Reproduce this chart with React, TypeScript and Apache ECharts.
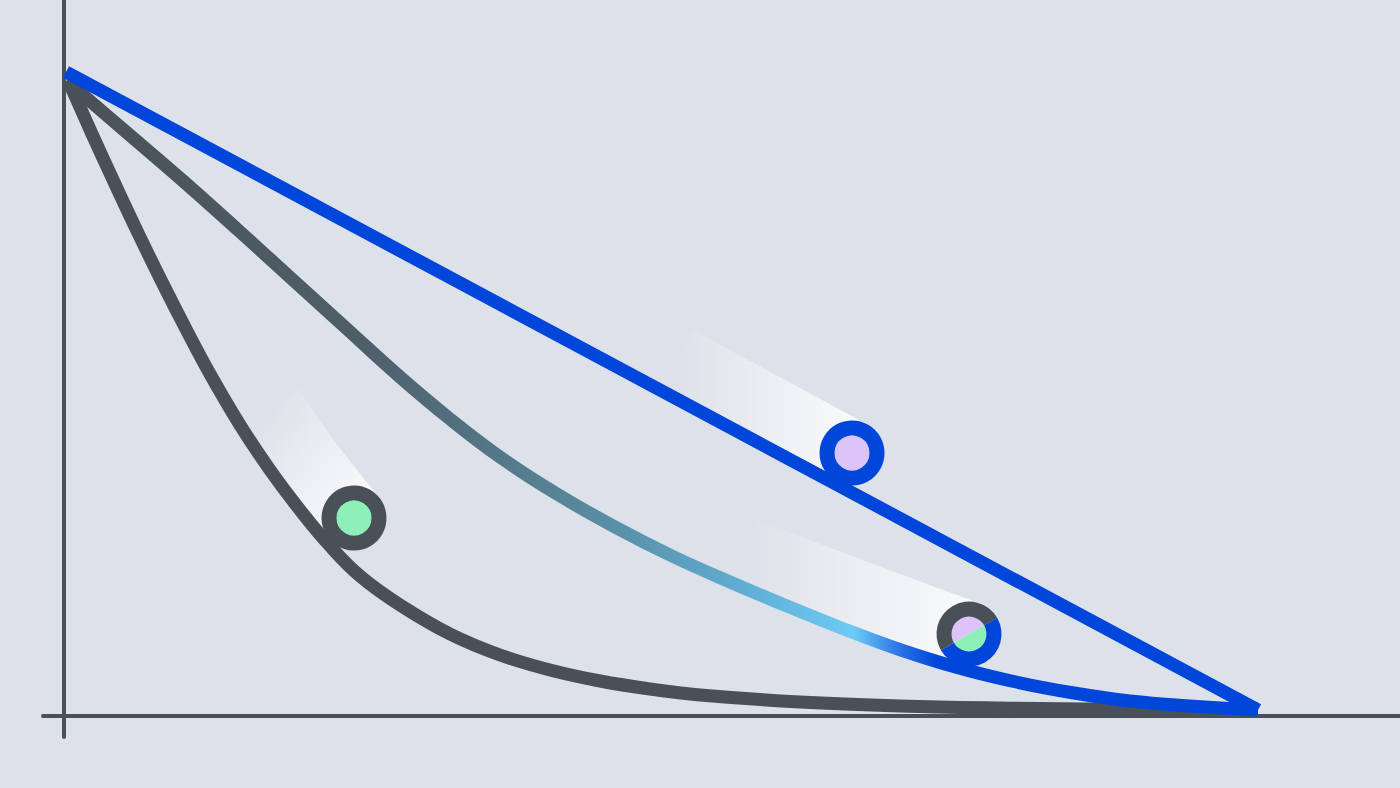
import React, { useEffect, useRef } from 'react';
import * as echarts from 'echarts';

const BG = '#dde1e9';
const GRAY = '#4a5058';
const BLUE = '#0046da';
const LILAC = '#dcc4f9';
const MINT = '#8ef0b8';

// axis units: origin where the two axes cross
const straightX = [2, 1194];
const straightY = [644, 6];

const steepX = [4, 28, 51, 75, 99, 123, 146, 176, 206, 236, 266, 296, 336, 386, 436, 486, 536, 586, 636, 736, 836, 936, 1036, 1194];
const steepY = [636, 582, 532, 481, 432, 385, 342, 291, 246, 206, 170, 140, 111, 82, 61, 46, 35, 27, 21, 14, 10, 8, 7, 7];

const bowX = [4, 61, 118, 174, 229, 283, 336, 386, 436, 493, 551, 608, 666, 723, 780, 837, 895, 952, 1010, 1066, 1126, 1194];
const bowY = [634, 585, 536, 486, 436, 387, 339, 297, 259, 222, 189, 160, 134, 110, 87, 66, 48, 34, 23, 15, 10, 6];

// motion trails behind the balls
const trailAX = [614, 788];
const trailAY = [357, 263];
const trailBX = [207, 238, 290];
const trailBY = [310, 264, 198];
const trailCX = [681, 786, 905];
const trailCY = [166, 126, 82];

const ballX = [788, 290, 905];
const ballY = [263, 198, 82];
// 0 = blue ring / lilac, 1 = gray ring / mint, 2 = half and half
const ballKind = [0, 1, 2];

const pairs = (xs: number[], ys: number[]) => xs.map((x, i) => [x, ys[i]]);

const trailFade = (x2: number, y2: number) =>
  new echarts.graphic.LinearGradient(0, 0, x2, y2, [
    { offset: 0, color: 'rgba(255,255,255,0)' },
    { offset: 0.4, color: 'rgba(255,255,255,0.35)' },
    { offset: 1, color: 'rgba(255,255,255,0.82)' }
  ]);

const trailSeries = (data: number[][], grad: any) => ({
  type: 'line',
  data,
  z: 1,
  smooth: 0.3,
  symbol: 'none',
  silent: true,
  lineStyle: { width: 65, cap: 'butt', color: grad }
});

const curve = (data: number[][], color: any, z: number) => ({
  type: 'line',
  data,
  z,
  smooth: 0.4,
  symbol: 'none',
  silent: true,
  lineStyle: { width: 13, cap: 'butt', join: 'round', color }
});

export default function App() {
  const chartRef = useRef<HTMLDivElement>(null);

  useEffect(() => {
    if (!chartRef.current) return;
    const chart = echarts.init(chartRef.current, null, { renderer: 'svg' });

    const axisCommon = {
      type: 'value',
      axisLine: { show: true, onZero: true, lineStyle: { color: GRAY, width: 4 } },
      axisTick: { show: false },
      axisLabel: { show: false },
      splitLine: { show: false }
    };

    const bowGradient = new echarts.graphic.LinearGradient(0, 0, 1, 0, [
      { offset: 0, color: GRAY },
      { offset: 0.25, color: '#4e5f6a' },
      { offset: 0.42, color: '#588598' },
      { offset: 0.55, color: '#5fa8cc' },
      { offset: 0.66, color: '#6ccbf6' },
      { offset: 0.7, color: '#2a70e6' },
      { offset: 0.73, color: BLUE },
      { offset: 1, color: BLUE }
    ]);

    const option = {
      animation: false,
      backgroundColor: BG,
      grid: { left: 43, right: 0, top: 0, bottom: 51 },
      xAxis: { ...axisCommon, min: -21, max: 1336 },
      yAxis: { ...axisCommon, min: -21, max: 716 },
      series: [
        trailSeries(pairs(trailAX, trailAY), trailFade(1, 0)),
        trailSeries(pairs(trailBX, trailBY), trailFade(1, 1)),
        trailSeries(pairs(trailCX, trailCY), trailFade(1, 0)),
        curve(pairs(steepX, steepY), GRAY, 2),
        curve(pairs(bowX, bowY), bowGradient, 3),
        curve(pairs(straightX, straightY), BLUE, 4),
        {
          type: 'custom',
          z: 5,
          silent: true,
          data: ballX.map((x, i) => [x, ballY[i], ballKind[i]]),
          renderItem: (params: any, api: any) => {
            const [cx, cy] = api.coord([api.value(0), api.value(1)]);
            const kind = api.value(2);
            if (kind === 2) {
              const a = Math.PI / 6;
              return {
                type: 'group',
                children: [
                  { type: 'sector', shape: { cx, cy, r0: 0, r: 18, startAngle: Math.PI - a, endAngle: 2 * Math.PI - a }, style: { fill: LILAC } },
                  { type: 'sector', shape: { cx, cy, r0: 0, r: 18, startAngle: -a, endAngle: Math.PI - a }, style: { fill: MINT } },
                  { type: 'sector', shape: { cx, cy, r0: 17.5, r: 32.5, startAngle: Math.PI - a, endAngle: 2 * Math.PI - a }, style: { fill: GRAY } },
                  { type: 'sector', shape: { cx, cy, r0: 17.5, r: 32.5, startAngle: -a, endAngle: Math.PI - a }, style: { fill: BLUE } }
                ]
              };
            }
            return {
              type: 'circle',
              shape: { cx, cy, r: 25 },
              style: { fill: kind === 0 ? LILAC : MINT, stroke: kind === 0 ? BLUE : GRAY, lineWidth: 15 }
            };
          }
        }
      ]
    };

    chart.setOption(option as any);

    return () => {
      chart.dispose();
    };
  }, []);

  return (
    <div
      ref={chartRef}
      style={{ position: 'fixed', left: 0, top: 0, width: '1400px', height: '788px', background: BG }}
    />
  );
}
